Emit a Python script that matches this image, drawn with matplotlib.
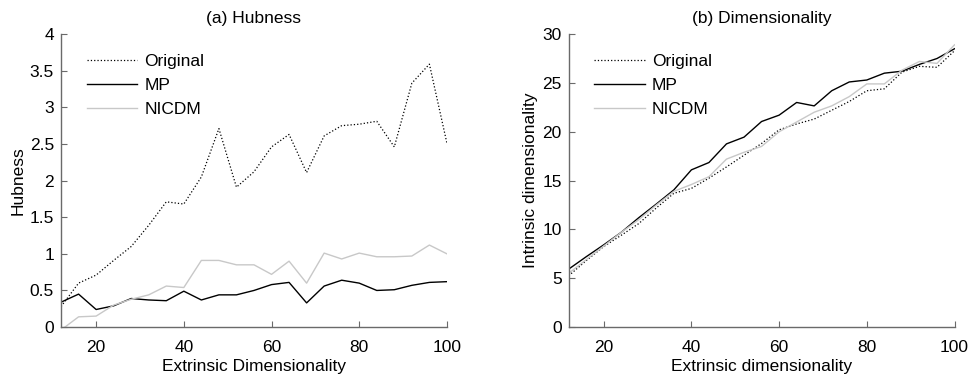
import matplotlib
matplotlib.use('Agg')
import matplotlib.pyplot as plt
from matplotlib.ticker import FuncFormatter

plt.rcParams['font.family'] = ['Liberation Sans', 'DejaVu Sans']

# extrinsic dimensionality 12..100 step 4
dims = [12, 16, 20, 24, 28, 32, 36, 40, 44, 48, 52, 56, 60, 64, 68, 72, 76, 80, 84, 88, 92, 96, 100]

# (a) hubness
hub_orig = [0.28, 0.60, 0.71, 0.91, 1.10, 1.39, 1.71, 1.68, 2.05, 2.71, 1.91, 2.12, 2.46, 2.63,
            2.11, 2.61, 2.75, 2.77, 2.81, 2.46, 3.33, 3.59, 2.51]
hub_mp = [0.34, 0.45, 0.24, 0.29, 0.39, 0.37, 0.36, 0.49, 0.37, 0.44, 0.44, 0.50, 0.58, 0.61,
          0.33, 0.56, 0.64, 0.60, 0.50, 0.51, 0.57, 0.61, 0.62]
hub_nicdm = [-0.04, 0.14, 0.15, 0.30, 0.38, 0.44, 0.56, 0.54, 0.91, 0.91, 0.85, 0.85, 0.72, 0.90,
             0.60, 1.01, 0.93, 1.01, 0.96, 0.96, 0.97, 1.12, 1.00]

# (b) intrinsic dimensionality
id_orig = [5.25, 6.8, 8.25, 9.4, 10.6, 12.2, 13.7, 14.2, 15.25, 16.4, 17.6, 18.8, 20.2, 20.8,
           21.3, 22.2, 23.1, 24.2, 24.4, 26.1, 26.7, 26.6, 28.3]
id_mp = [5.93, 7.2, 8.42, 9.7, 11.2, 12.6, 14.05, 16.1, 16.85, 18.76, 19.45, 21.05, 21.7, 23.0,
         22.65, 24.2, 25.1, 25.3, 26.0, 26.2, 26.9, 27.5, 28.5]
id_nicdm = [5.5, 6.9, 8.3, 9.7, 11.0, 12.5, 13.9, 14.6, 15.4, 17.2, 17.9, 18.5, 20.0, 21.0,
            22.0, 22.65, 23.6, 24.9, 24.9, 26.3, 27.2, 27.0, 28.9]

gray = '#c8c8c8'
spine_col = '#6a6a6a'

fig = plt.figure(figsize=(9.72, 3.79), dpi=100)
ax1 = fig.add_axes([0.0628, 0.137, 0.397, 0.773])
ax2 = fig.add_axes([0.585, 0.137, 0.397, 0.773])


def style(ax):
    for s in ['top', 'right']:
        ax.spines[s].set_visible(False)
    for s in ['left', 'bottom']:
        ax.spines[s].set_color(spine_col)
        ax.spines[s].set_linewidth(1.0)
    ax.tick_params(direction='in', length=4, color=spine_col, labelsize=12.5)
    ax.tick_params(axis='x', pad=9)
    ax.tick_params(axis='y', pad=5)
    ax.set_xlim(12, 100)
    ax.set_xticks([20, 40, 60, 80, 100])
    ax.yaxis.set_major_formatter(FuncFormatter(lambda v, p: '%g' % v))


def add_legend(ax):
    ax.legend(loc='upper left', bbox_to_anchor=(0.04, 0.968), frameon=False, fontsize=12.5,
              handlelength=2.9, handletextpad=0.4, labelspacing=0.52, borderaxespad=0.2)


ax1.plot(dims, hub_orig, ':', color='black', lw=0.9, label='Original')
ax1.plot(dims, hub_mp, '-', color='black', lw=1.0, label='MP')
ax1.plot(dims, hub_nicdm, '-', color=gray, lw=1.0, label='NICDM')
style(ax1)
ax1.set_ylim(0, 4)
ax1.set_yticks([0, 0.5, 1, 1.5, 2, 2.5, 3, 3.5, 4])
ax1.set_title('(a) Hubness', fontsize=12.5, pad=8)
ax1.set_xlabel('Extrinsic Dimensionality', fontsize=12.5, labelpad=3)
ax1.set_ylabel('Hubness', fontsize=12.5, labelpad=3)
add_legend(ax1)

ax2.plot(dims, id_orig, ':', color='black', lw=0.9, label='Original')
ax2.plot(dims, id_mp, '-', color='black', lw=1.0, label='MP')
ax2.plot(dims, id_nicdm, '-', color=gray, lw=1.0, label='NICDM')
style(ax2)
ax2.set_ylim(0, 30)
ax2.set_yticks([0, 5, 10, 15, 20, 25, 30])
ax2.set_title('(b) Dimensionality', fontsize=12.5, pad=8)
ax2.set_xlabel('Extrinsic dimensionality', fontsize=12.5, labelpad=3)
ax2.set_ylabel('Intrinsic dimensionality', fontsize=12.5, labelpad=3)
add_legend(ax2)

fig.savefig('out.png', dpi=100)
